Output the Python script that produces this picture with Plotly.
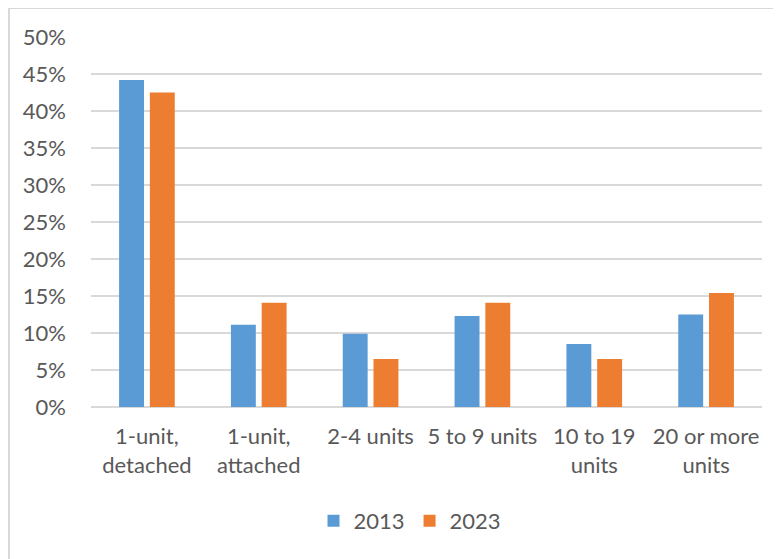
import plotly.graph_objects as go

categories = ["1-unit,<br>detached", "1-unit,<br>attached", "2-4 units",
              "5 to 9 units", "10 to 19<br>units", "20 or more<br>units"]
values_2013 = [0.442, 0.111, 0.099, 0.123, 0.085, 0.125]
values_2023 = [0.425, 0.141, 0.065, 0.141, 0.065, 0.154]
tick_vals = [0, 0.05, 0.10, 0.15, 0.20, 0.25, 0.30, 0.35, 0.40, 0.45, 0.50]

# page body has an 8px default margin, so the figure starts at screen (8, 8)
OFF = 8
W, H = 781 - OFF, 559 - OFF
L, T = 91 - OFF, 37 - OFF
R = W - (762 - OFF)
B = H - (407 - OFF)
pw = W - L - R
ph = H - T - B

font_family = "Lato, 'Open Sans', sans-serif"
text_color = "#595959"
grid_color = "#D9D9D9"


def px_x(p):
    return (p - OFF - L) / pw


def px_y(p):
    return (H - B - (p - OFF)) / ph


fig = go.Figure()
fig.add_trace(go.Bar(name="2013", x=categories, y=values_2013, marker_color="#5B9BD5",
                     marker_line_width=0))
fig.add_trace(go.Bar(name="2023", x=categories, y=values_2023, marker_color="#ED7D31",
                     marker_line_width=0))

fig.update_layout(
    width=W, height=H,
    margin=dict(l=L, r=R, t=T, b=B, pad=0),
    paper_bgcolor="white", plot_bgcolor="white",
    barmode="group", bargap=0.45, bargroupgap=0.19,
    font=dict(family=font_family, size=22, color=text_color),
    showlegend=True,
    legend=dict(orientation="h", x=px_x(410), xanchor="center", y=px_y(521), yanchor="middle",
                font=dict(size=22, color=text_color), itemwidth=30, traceorder="normal",
                bgcolor="rgba(0,0,0,0)"),
    xaxis=dict(showgrid=False, showline=False, ticks="", tickfont=dict(size=22),
               ticklabelstandoff=14, zeroline=False),
    yaxis=dict(range=[0, 0.5], tickvals=tick_vals, tickformat=".0%",
               showgrid=True, gridcolor=grid_color, gridwidth=2,
               zeroline=True, zerolinecolor=grid_color, zerolinewidth=2,
               showline=False, ticks="", ticklabelstandoff=24, tickfont=dict(size=22)),
    shapes=[
        dict(type="line", xref="paper", yref="paper",
             x0=px_x(8), x1=px_x(800), y0=px_y(8), y1=px_y(8),
             line=dict(color=grid_color, width=2)),
        dict(type="line", xref="paper", yref="paper",
             x0=px_x(9), x1=px_x(9), y0=px_y(8), y1=px_y(580),
             line=dict(color=grid_color, width=2)),
    ],
)

fig.write_html("out.html")
